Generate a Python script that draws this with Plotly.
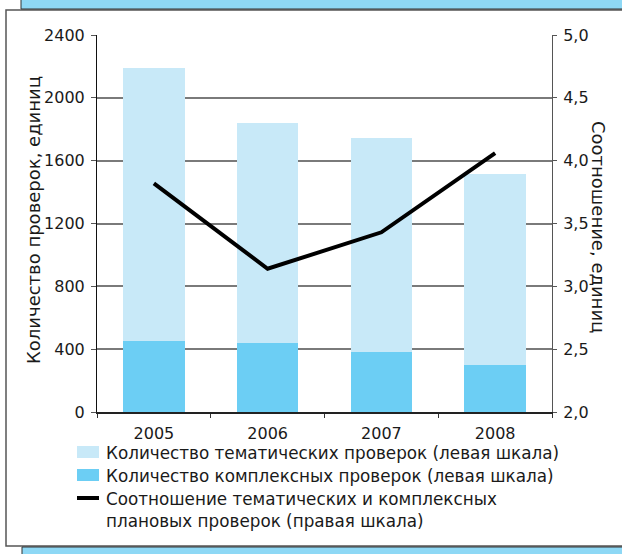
import plotly.graph_objects as go

# ---------------- data ----------------
years = ["2005", "2006", "2007", "2008"]
thematic = [1740, 1402, 1365, 1217]      # тематические (сверху, левая шкала)
complex_checks = [450, 438, 380, 298]    # комплексные (снизу, левая шкала)
ratio = [3.82, 3.14, 3.43, 4.06]         # соотношение (правая шкала)

left_ticks = [0, 400, 800, 1200, 1600, 2000, 2400]
right_ticks = [2.0, 2.5, 3.0, 3.5, 4.0, 4.5, 5.0]
right_ticktext = ["2,0", "2,5", "3,0", "3,5", "4,0", "4,5", "5,0"]

left_title = "Количество проверок, единиц"
right_title = "Соотношение, единиц"
legend_labels = [
    "Количество тематических проверок (левая шкала)",
    "Количество комплексных проверок (левая шкала)",
    "Соотношение тематических и комплексных<br>плановых проверок (правая шкала)",
]

# ---------------- style ----------------
C_LIGHT = "#C8E9F8"
C_DARK = "#6CCEF4"
C_BAND = "#8ED8F5"
FONT = "DejaVu Sans, Liberation Sans, Arial, sans-serif"
TXT = "#1a1a1a"
W, H = 622, 554
ML, MR, MT, MB = 97, 70, 35, 142
PW, PH = W - ML - MR, H - MT - MB


def px(xpix):
    return (xpix - ML) / PW


def py(ypix):
    return (H - MB - ypix) / PH


fig = go.Figure()
fig.add_trace(go.Bar(x=years, y=complex_checks, marker=dict(color=C_DARK, line=dict(width=0)),
                     width=0.54, name=legend_labels[1], showlegend=False))
fig.add_trace(go.Bar(x=years, y=thematic, marker=dict(color=C_LIGHT, line=dict(width=0)),
                     width=0.54, name=legend_labels[0], showlegend=False))
fig.add_trace(go.Scatter(x=years, y=ratio, yaxis="y2", mode="lines",
                         line=dict(color="black", width=4), name=legend_labels[2],
                         showlegend=False))

shapes = []
annotations = []

# frame
shapes.append(dict(type="rect", xref="paper", yref="paper", layer="below",
                   x0=px(6), x1=px(640), y0=py(546), y1=py(10),
                   line=dict(color="#555555", width=1.5), fillcolor="white"))
# blue bands (top and bottom)
shapes.append(dict(type="rect", xref="paper", yref="paper", layer="below",
                   x0=px(21), x1=px(640), y0=py(9), y1=py(-5),
                   line=dict(color="#333333", width=1), fillcolor=C_BAND))
shapes.append(dict(type="rect", xref="paper", yref="paper", layer="below",
                   x0=px(22), x1=px(640), y0=py(560), y1=py(547),
                   line=dict(color="#333333", width=1), fillcolor=C_BAND))

# manual legend
rows_y = [452, 475, 498]
shapes.append(dict(type="rect", xref="paper", yref="paper",
                   x0=px(77), x1=px(99), y0=py(458), y1=py(446),
                   line=dict(width=0), fillcolor=C_LIGHT))
shapes.append(dict(type="rect", xref="paper", yref="paper",
                   x0=px(77), x1=px(99), y0=py(481), y1=py(469),
                   line=dict(width=0), fillcolor=C_DARK))
shapes.append(dict(type="line", xref="paper", yref="paper",
                   x0=px(77), x1=px(99), y0=py(498), y1=py(498),
                   line=dict(color="black", width=4)))
for lab, yy in zip(legend_labels, rows_y):
    annotations.append(dict(text=lab, xref="paper", yref="paper", x=px(104), y=py(yy - 11),
                            xanchor="left", yanchor="top", align="left", showarrow=False,
                            font=dict(family=FONT, size=16.8, color=TXT)))

# axis titles
annotations.append(dict(text=left_title, xref="paper", yref="paper", x=px(33), y=py(220),
                        textangle=-90, showarrow=False, xanchor="center", yanchor="middle",
                        font=dict(family=FONT, size=18, color=TXT)))
annotations.append(dict(text=right_title, xref="paper", yref="paper", x=px(599), y=py(227),
                        textangle=90, showarrow=False, xanchor="center", yanchor="middle",
                        font=dict(family=FONT, size=18, color=TXT)))

tickfont = dict(family=FONT, size=16, color=TXT)
fig.update_layout(
    width=W, height=H,
    margin=dict(l=ML, r=MR, t=MT, b=MB, pad=0),
    paper_bgcolor="white", plot_bgcolor="rgba(0,0,0,0)",
    barmode="stack",
    font=dict(family=FONT, size=16, color=TXT),
    showlegend=False,
    shapes=shapes, annotations=annotations,
    xaxis=dict(type="category", tickson="boundaries", ticks="outside", ticklen=4,
               tickcolor="#333333", showline=True, linecolor="#222222", linewidth=1.5,
               showgrid=False, ticklabelstandoff=6, range=[-0.5, 3.5], tickfont=tickfont),
    yaxis=dict(range=[0, 2400], tickvals=left_ticks, ticks="outside", ticklen=5,
               tickcolor="#555555", showline=True, linecolor="#111111", linewidth=1,
               showgrid=True, gridcolor="#7a7a7a", gridwidth=1.5, zeroline=False,
               ticklabelstandoff=3, tickfont=tickfont),
    yaxis2=dict(range=[2, 5], tickvals=right_ticks, ticktext=right_ticktext,
                overlaying="y", side="right", ticks="outside", ticklen=4,
                tickcolor="#555555", showline=True, linecolor="#555555", linewidth=1,
                showgrid=False, zeroline=False, ticklabelstandoff=3, tickfont=tickfont),
)

fig.write_html("out.html", config={"displayModeBar": False},
               post_script="document.body.style.margin='0';document.body.style.overflow='hidden';")
